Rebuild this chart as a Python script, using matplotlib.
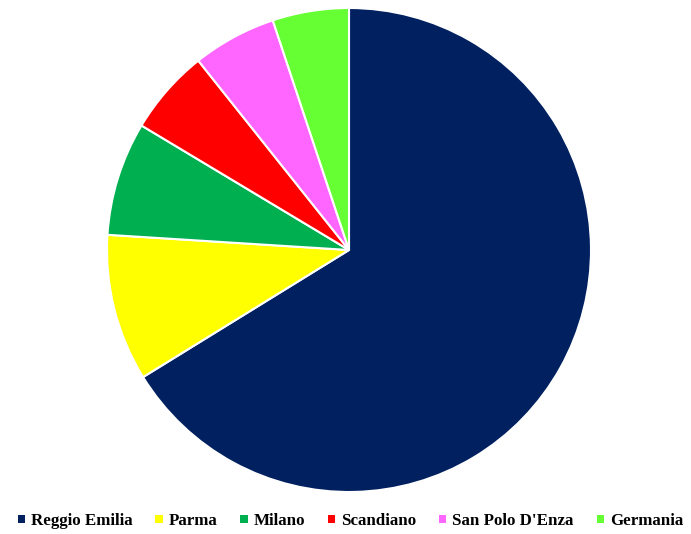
import matplotlib.pyplot as plt
from matplotlib.patches import Patch

labels = ["Reggio Emilia", "Parma", "Milano", "Scandiano", "San Polo D'Enza", "Germania"]
values = [66.2, 9.8, 7.6, 5.7, 5.6, 5.1]
colors = ["#002060", "#FFFF00", "#00B050", "#FF0000", "#FF66FF", "#66FF33"]

fig = plt.figure(figsize=(6.91, 5.34), dpi=100)
# pie centre at (349, 250) px, radius 242 px
ax = fig.add_axes([(349 - 242) / 691, (534 - 250 - 242) / 534, 484 / 691, 484 / 534])
ax.pie(values, colors=colors, startangle=90, counterclock=False,
       wedgeprops=dict(edgecolor="white", linewidth=1.5))
ax.set_xlim(-1, 1)
ax.set_ylim(-1, 1)
ax.set_aspect("equal")
ax.axis("off")

handles = [Patch(facecolor=c, edgecolor="none") for c in colors]
fig.legend(handles, labels, loc="center", bbox_to_anchor=(0.507, 1 - 521 / 534),
           ncol=6, frameon=False, handlelength=0.43, handleheight=0.43,
           handletextpad=0.35, columnspacing=1.35,
           prop=dict(family="Liberation Serif", weight="bold", size=12.2))

fig.savefig("out.png", dpi=100)
